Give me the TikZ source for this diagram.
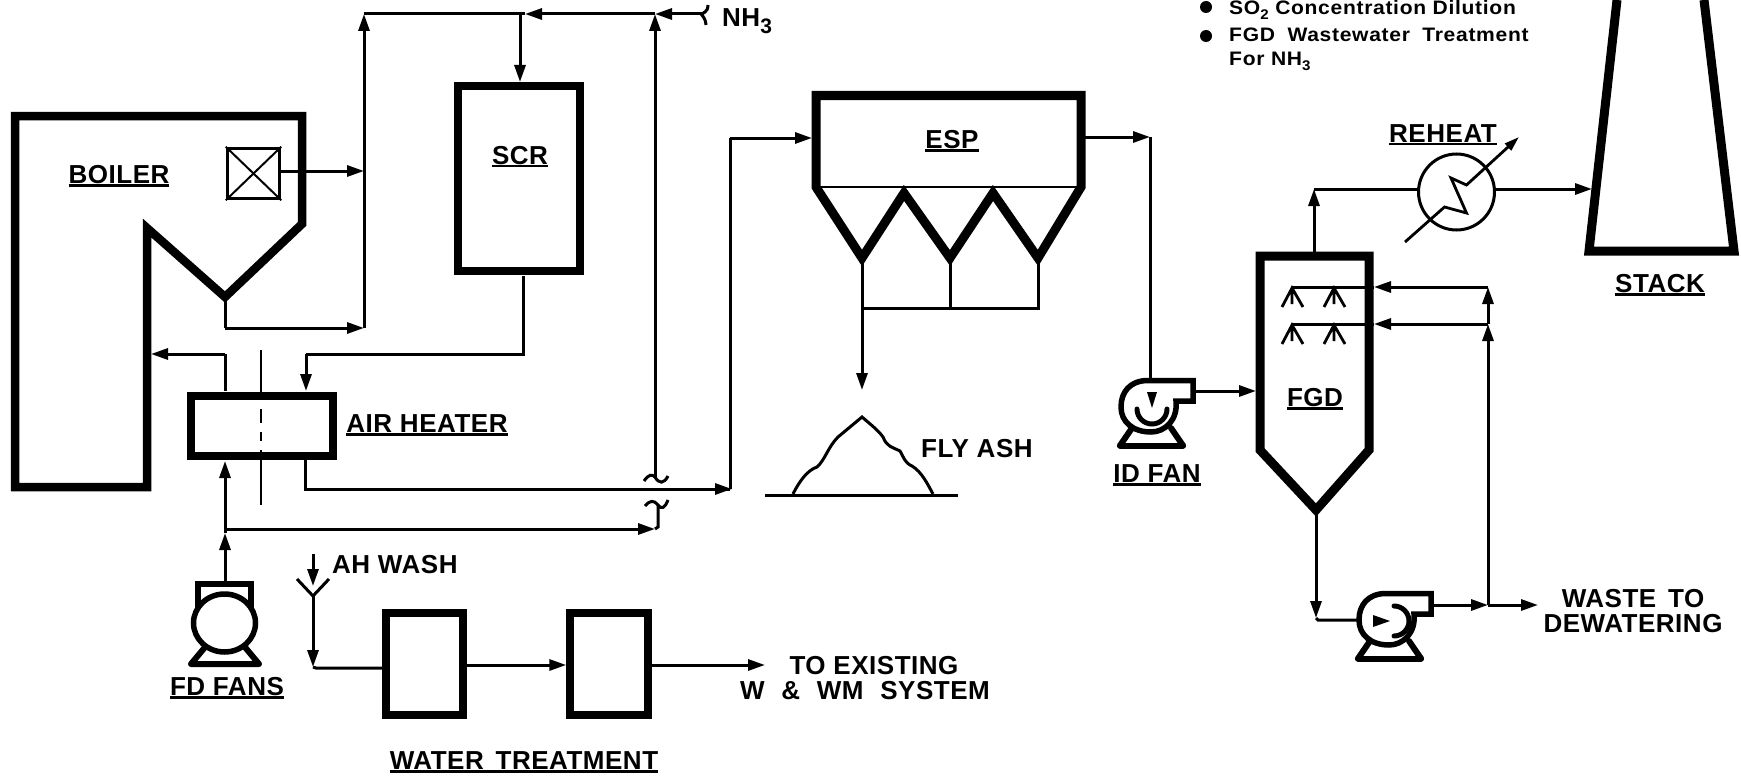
\documentclass[tikz,border=0pt]{standalone}
\usepackage{fontspec}
\setmainfont{Liberation Sans}[LetterSpace=2]
\newfontfamily\notefont{Liberation Sans}[FakeStretch=1.08,LetterSpace=3.5]
\usetikzlibrary{arrows.meta}
\newcommand{\ulbl}[1]{\hbox{\setbox0=\hbox{#1}\rlap{\rule[-3.5pt]{\wd0}{2.4pt}}\box0}}
\newcommand{\lowsub}[1]{\raisebox{-5pt}{\fontsize{14}{14}\selectfont #1}}
\tikzset{
  wall/.style={draw=black,line width=9pt,miter limit=12},
  box/.style={draw=black,line width=8pt,fill=white,inner sep=0pt},
  pipe/.style={draw=black,line width=3pt},
  flow/.style={pipe,-{Triangle[length=17pt,width=11pt]}},
  lab/.style={inner sep=0pt,anchor=base,font=\bfseries\fontsize{26}{26}\selectfont},
  labw/.style={inner sep=0pt,anchor=base west,font=\bfseries\fontsize{26}{26}\selectfont},
  note/.style={inner sep=0pt,anchor=base west,font=\notefont\bfseries\fontsize{19.5}{19.5}\selectfont},
  dotb/.style={circle,fill=black,inner sep=0pt,minimum size=12pt},
  housing/.pic={
    \draw[line width=6pt,line cap=round] (-31,39.5) -- (32,39.5);
    \draw[line width=6pt,line cap=round] (-31,39.5) -- (-19,22) (32,39.5) -- (20,22);
    \draw[line width=5.5pt,fill=white] (25,-5) .. controls (27,14) and (14,26) .. (0,26)
       .. controls (-18,26) and (-30,16) .. (-30,1) .. controls (-30,-14) and (-21,-25.5) .. (-3,-25.5)
       -- (42,-25.5) -- (42,-5) -- cycle;
  }
}
\begin{document}
\begin{tikzpicture}[x=1pt,y=-1pt]
\useasboundingbox (0,0) rectangle (1741,776);
% ---------- boiler
\draw[wall,line width=8.5pt] (15,116) -- (302,116) -- (302,224) -- (225,297) -- (147,228) -- (147,487) -- (15,487) -- cycle;
\node[draw=black,line width=3.5pt,minimum width=52pt,minimum height=50pt,inner sep=0pt] (burner) at (253.5,173.5) {};
\draw[line width=2pt] (burner.north west) -- (burner.south east) (burner.north east) -- (burner.south west);
\coordinate (apex) at (225,300);
\coordinate (duct) at (364,171);
\coordinate (ductb) at (364,328);
\coordinate (duckt) at (364,14);
\coordinate (jscr) at (520,14);
\coordinate (jnh) at (655,14);
\coordinate (nhs) at (701,14);
% ---------- SCR, air heater
\node[box,minimum width=122pt,minimum height=185pt] (scr) at (519,178.5) {};
\node[box,line width=7.5pt,minimum width=142pt,minimum height=60pt] (ah) at (262,426) {};
\draw[line width=2.8pt,dash pattern=on 50pt off 9pt on 14pt off 9pt on 9pt off 9pt on 15pt off 0pt on 50pt] (261,350) -- (261,505);
% ---------- upper connectors
\draw[flow] (burner.east |- duct) -- (duct);
\draw[pipe] (apex) -- (apex |- ductb);
\draw[flow] (apex |- ductb) -- (ductb);
\draw[flow] (ductb) -- (duckt);
\draw[flow] (nhs) -- (jnh);
\draw[flow] (jnh) -- (525,14);
\draw[pipe] (525,14) -- (duckt);
\draw[flow] (jscr) -- (jscr |- scr.north);
\draw[pipe] (701,14) .. controls (708,12) and (708,7) .. (708,5) (701,14) .. controls (703,16) and (706,20) .. (706,25);
\coordinate (tilU) at (655,477);
\draw[flow] (tilU) -- (jnh);
\draw[pipe] (644,481) .. controls (649,474) and (652,474) .. (655,477) .. controls (659,484) and (664,484) .. (668,476);
\coordinate (ahback) at (225,354);
\coordinate (scrdrop) at (306,354);
\draw[pipe] (225,391) -- (ahback);
\draw[flow] (ahback) -- (151,354);
\draw[pipe] (523,276) -- (523,354) -- (scrdrop);
\draw[flow] (scrdrop) -- (306,391);
% ---------- gas path to ESP
\coordinate (espin) at (812,138);
\coordinate (espcorner) at (730,138);
\coordinate (ahcorner) at (730,489);
\draw[pipe] (305,459) -- (305,489) -- (ahcorner);
\draw[flow] (305,489) -- (732,489);
\draw[pipe] (ahcorner) -- (espcorner);
\draw[flow] (espcorner) -- (espin);
% ---------- bypass
\draw[flow] (225,529) -- (655,529);
\draw[pipe] (655,529) -- (658,527) -- (658,505);
\draw[pipe] (645,506) .. controls (650,500) and (654,500) .. (658,505) .. controls (661,510) and (665,508) .. (668,500);
% ---------- ESP
\draw[wall] (816,187) -- (816,95.5) -- (1081,95.5) -- (1081,187) -- (1038,258) -- (993,193) -- (950,258) -- (904,193) -- (862,258) -- (816,187) -- cycle;
\draw[line width=2.8pt] (816,187) -- (1081,187);
\coordinate (h1) at (862,262);
\coordinate (h2) at (950,262);
\coordinate (h3) at (1038,262);
\draw[pipe] (h2) -- (950,308) (h3) -- (1038,308) -- (862,308);
\draw[flow] (h1) -- (862,390);
% ---------- fly ash
\draw[line width=3pt] (765,495) -- (958,495);
\draw[line width=3pt] (793,494) .. controls (800,480) and (808,470) .. (817,467)
  .. controls (825,460) and (828,447) .. (838,437) -- (862,417)
  .. controls (870,424) and (878,430) .. (883,437) .. controls (887,447) and (892,447) .. (900,451)
  .. controls (904,458) and (905,463) .. (912,466) .. controls (922,472) and (928,485) .. (933,494);
% ---------- ID fan
\coordinate (espout) at (1085,137);
\coordinate (idtop) at (1150,378);
\draw[flow] (espout) -- (1150,137);
\draw[pipe] (1150,137) -- (idtop);
\pic at (1151,406) {housing};
\draw[line width=5pt,line cap=round] (1137,409) arc[start angle=180,end angle=360,radius=15pt];
\fill (1147,392) -- (1157,392) -- (1152,408) -- cycle;
\coordinate (idout) at (1195,391);
% ---------- FGD
\draw[wall,fill=white] (1260,256) -- (1369,256) -- (1369,450) -- (1316,510) -- (1260,450) -- cycle;
\draw[flow] (idout) -- (1256,391);
\coordinate (sp1) at (1292,287);
\coordinate (sp2) at (1292,324);
\coordinate (riser1) at (1488,287);
\coordinate (riser2) at (1488,324);
\coordinate (wasteJ) at (1488,605);
\draw[flow] (riser1) -- (1374,287);
\draw[pipe] (1374,287) -- (sp1);
\draw[flow] (riser2) -- (1374,324);
\draw[pipe] (1374,324) -- (sp2);
\draw[flow] (wasteJ) -- (riser2);
\draw[flow] (riser2) -- (riser1);
\foreach \yy in {288,325}{
  \foreach \xx in {1292,1334}{
    \draw[line width=2.8pt] (\xx-10,\yy+19) -- (\xx,\yy) -- (\xx+11,\yy+19) (\xx,\yy) -- (\xx,\yy+16);
  }
}
% ---------- reheat
\node[draw=black,line width=3pt,circle,minimum size=76pt,inner sep=0pt] (rh) at (1456.5,192) {};
\coordinate (rhin) at (1314,189);
\draw[flow] (1314,252) -- (rhin);
\draw[pipe] (rhin) -- (rh.west |- rhin);
\draw[flow] (rh.east |- rhin) -- (1592,189);
\draw[line width=2.8pt,-{Triangle[length=15pt,width=9pt]}] (1405,242) -- (1444.5,207) -- (1466.5,213) -- (1451,178) -- (1466.5,185) -- (1519,137);
% ---------- stack
\draw[wall,line join=miter] (1617,0) -- (1589,251) -- (1734,251) -- (1704,0);
% ---------- recycle pump
\coordinate (fgdb) at (1316,513);
\draw[flow] (fgdb) -- (1316,618);
\draw[pipe] (1316,618) -- (1318,620) -- (1357,620);
\pic at (1389,619) {housing};
\draw[line width=5pt,line cap=round] (1394,606) arc[start angle=90,end angle=-90,radius=15pt];
\fill (1373,615) -- (1373,627) -- (1390,621) -- cycle;
\draw[flow] (1433,605) -- (wasteJ);
\draw[flow] (wasteJ) -- (1538,605);
% ---------- water treatment
\node[box,line width=7.5pt,minimum width=77pt,minimum height=102pt] (t1) at (424.5,664) {};
\node[box,line width=7.5pt,minimum width=78pt,minimum height=102pt] (t2) at (609,664) {};
\coordinate (wash) at (313,554);
\coordinate (washy) at (313,596);
\draw[flow] (wash) -- (313,586);
\draw[line width=3pt] (297,579) -- (washy) -- (329,579);
\draw[flow] (washy) -- (313,667);
\draw[pipe] (313,667) -- (316,668) -- (t1.west |- 0,668);
\draw[flow] (t1.east |- 0,665) -- (t2.west |- 0,665);
\draw[flow] (t2.east |- 0,665) -- (765,665);
% ---------- FD fan
\draw[line width=6pt,line cap=round] (191,664) -- (259,664) (191,664) -- (206,646) (259,664) -- (244,646);
\draw[line width=5.5pt] (198,608) -- (198,584) -- (251,584) -- (251,608);
\draw[line width=5.5pt,fill=white] (224.5,623) ellipse[x radius=31pt,y radius=29pt];
\coordinate (fd) at (225,582);
\coordinate (fdj) at (225,533);
\draw[flow] (fd) -- (fdj);
\draw[flow] (fdj) -- (225,461);
% ---------- labels
\node[lab] (lboiler) at (119,183) {\ulbl{BOILER}};
\node[lab] (lscr) at (520,164) {\ulbl{SCR}};
\node[lab] (lah) at (427,432) {\ulbl{AIR HEATER}};
\node[lab] (lfd) at (227,695) {\ulbl{FD FANS}};
\node[lab] (lwt) at (524,769) {\ulbl{WATER\hspace{4pt} TREATMENT}};
\node[labw] (lwash) at (332,573) {AH WASH};
\node[lab] (lesp) at (952,148) {\ulbl{ESP}};
\node[lab] (lid) at (1157,482) {\ulbl{ID FAN}};
\node[lab] (lfgd) at (1315,406) {\ulbl{FGD}};
\node[lab] (lrh) at (1443,142) {\ulbl{REHEAT}};
\node[lab] (lst) at (1660,292) {\ulbl{STACK}};
\node[labw] (lfly) at (921,457) {FLY ASH};
\node[lab] (lto1) at (874,674) {TO EXISTING};
\node[lab] (lto2) at (865,699) {W\hspace{9pt} \&\hspace{9pt} WM\hspace{9pt} SYSTEM};
\node[lab] (lw1) at (1633,607) {WASTE\hspace{4pt} TO};
\node[lab] (lw2) at (1633,632) {DEWATERING};
\node[labw] (lnh) at (722,27) {NH\raisebox{-7pt}{\fontsize{21}{21}\selectfont 3}};
\node[dotb] (b1) at (1206,7) {};
\node[dotb] (b2) at (1206,36) {};
\node[note] (n1) at (1229,14.5) {SO\lowsub{2} Concentration Dilution};
\node[note] (n2) at (1229,42) {FGD\hspace{6pt} Wastewater\hspace{6pt} Treatment};
\node[note] (n3) at (1229,66) {For NH\lowsub{3}};
\end{tikzpicture}
\end{document}
